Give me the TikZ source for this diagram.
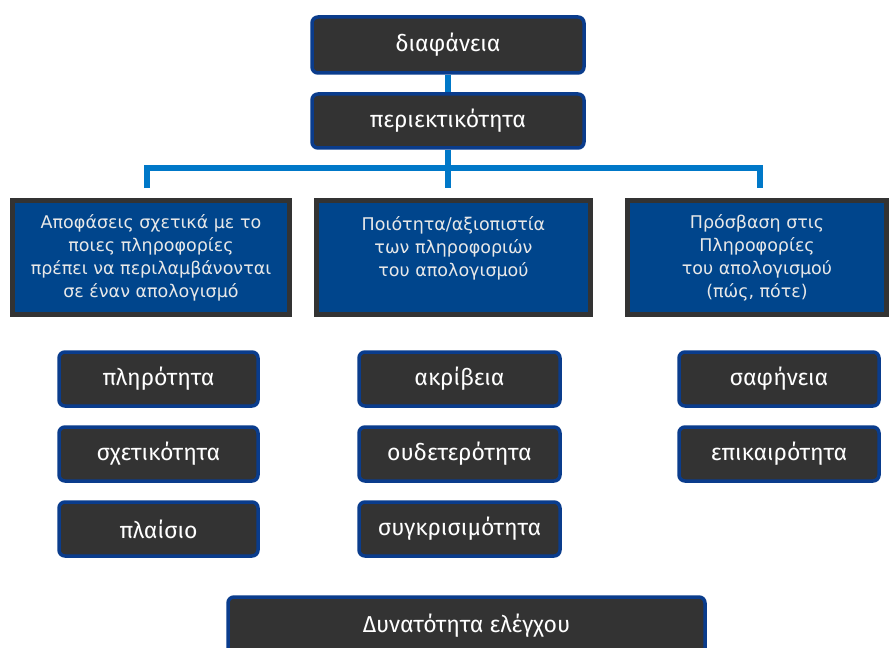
\documentclass[tikz,border=0pt]{standalone}
\usepackage{fontspec}
\usepackage{xcolor}
\setmainfont{DejaVu Sans}
\newfontfamily\boxfont{Fira Sans}
\definecolor{boxgray}{HTML}{333333}
\definecolor{boxblue}{HTML}{0A3C8C}
\definecolor{headblue}{HTML}{00458C}
\definecolor{busblue}{HTML}{0078C8}
\definecolor{headtext}{HTML}{E8E8E8}
\tikzset{
  darkbox/.style={draw=boxblue,fill=boxgray,line width=3.5pt,rounded corners=6pt,
    text=white,font=\boxfont\fontsize{23}{25}\selectfont,inner sep=0pt},
  headbox/.style={draw=boxgray,fill=headblue,line width=5pt,inner sep=0pt,
    minimum height=114pt,text=headtext,align=center,
    font=\fontsize{17.5}{23}\selectfont},
  bus/.style={draw=busblue,line width=6pt}
}
\begin{document}
\begin{tikzpicture}[x=1pt,y=-1pt]
\useasboundingbox[fill=white] (0,0) rectangle (890,647);
\node[darkbox,minimum width=272,minimum height=56] (diaf) at (448,45) {διαφάνεια};
\node[darkbox,minimum width=272,minimum height=54] (perie) at (448,121) {περιεκτικότητα};
\node[headbox,minimum width=277] (apof) at (151,257.5)
  {Αποφάσεις σχετικά με το\\ποιες πληροφορίες\\πρέπει να περιλαμβάνονται\\σε έναν απολογισμό};
\node[headbox,minimum width=274] (poiot) at (453.5,257.5)
  {Ποιότητα/αξιοπιστία\\των πληροφοριών\\του απολογισμού\\\mbox{}};
\node[headbox,minimum width=259] (prosv) at (757,257.5)
  {Πρόσβαση στις\\Πληροφορίες\\του απολογισμού\\(πώς, πότε)};
% criteria under each heading
\foreach \t [count=\i] in {πληρότητα,σχετικότητα,πλαίσιο}
  \node[darkbox,minimum width=199,minimum height=54] (left\i) at (158.5,304+75*\i) {\t};
\foreach \t [count=\i] in {ακρίβεια,ουδετερότητα,συγκρισιμότητα}
  \node[darkbox,minimum width=201,minimum height=54] (mid\i) at (459.5,304+75*\i) {\t};
\foreach \t [count=\i] in {σαφήνεια,επικαιρότητα}
  \node[darkbox,minimum width=200,minimum height=54] (right\i) at (779,304+75*\i) {\t};
\node[darkbox,minimum width=477,minimum height=58] (elen) at (466.5,626) {Δυνατότητα ελέγχου};
% connectors
\coordinate (dropL) at (147,188);
\coordinate (dropR) at (760,188);
\coordinate (busM) at (448,168);
\draw[bus] (diaf) -- (perie);
\draw[bus] (perie) -- (busM) -- ++(0,20);
\draw[bus] (dropL) -- (dropL |- busM) -- (dropR |- busM) -- (dropR);
\end{tikzpicture}
\end{document}
